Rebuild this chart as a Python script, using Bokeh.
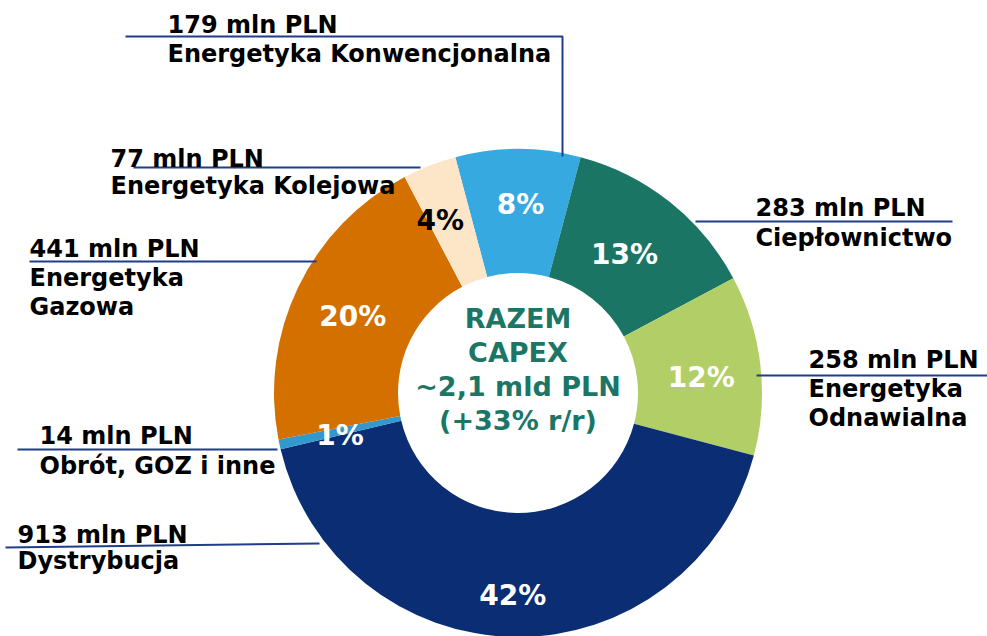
import math
from bokeh.plotting import figure
from bokeh.models import Range1d, ColumnDataSource
from bokeh.core.properties import value
from bokeh.embed import file_html
from bokeh.resources import INLINE

# ---------------- data ----------------
categories = ["Energetyka Konwencjonalna", "Ciepłownictwo", "Energetyka Odnawialna",
              "Dystrybucja", "Obrót, GOZ i inne", "Energetyka Gazowa", "Energetyka Kolejowa"]
values = [179, 283, 258, 913, 14, 441, 77]
label_lines = ["Energetyka Konwencjonalna", "Ciepłownictwo", "Energetyka\nOdnawialna",
               "Dystrybucja", "Obrót, GOZ i inne", "Energetyka\nGazowa", "Energetyka Kolejowa"]
colors = ["#36a9e1", "#1b7565", "#b2cf67", "#0a2d74", "#3399cc", "#d47000", "#fde5c8"]
pct_colors = ["white", "white", "white", "white", "white", "white", "black"]
center_lines = ["RAZEM", "CAPEX", "~2,1 mld PLN", "(+33% r/r)"]

# ---------------- layout (reference pixel coordinates) ----------------
W, H = 987, 636
CX, CY = 517.5, 392.5
R_OUT, R_IN = 244, 120
pct_radius = [189, 175, 184, 203, 183, 182, 189]
pct_angle_nudge = [0.8, -0.9, 1.8, 0.7, -1.3, -0.9, -3.0]
label_pos = [(167, 32), (755, 215), (808, 367), (17, 542), (39, 443), (29, 256), (110, 166)]
line_gap = [29, 30, 29, 26, 30, 29, 27]
leader_xs = [[125, 562, 562], [695, 952], [756, 987], [5, 319], [17, 277], [29, 316], [133, 420]]
leader_ys = [[36, 36, 156], [221, 221], [375, 375], [547, 543], [449, 449], [261, 261], [167, 167]]

FONT = value("DejaVu Sans")
LABEL_SIZE = 24

p = figure(width=W, height=H, output_backend="svg", toolbar_location=None,
           x_range=Range1d(0, W), y_range=Range1d(-H, 0),
           x_axis_type=None, y_axis_type=None, min_border=0)
p.outline_line_color = None
p.grid.visible = False
p.background_fill_color = "white"

total = sum(values)
start_cw = -values[0] / total * 180.0  # first slice centered at the top
starts, ends, mids = [], [], []
acc = start_cw
for v in values:
    a0 = acc
    a1 = acc + v / total * 360.0
    starts.append(math.radians(90 - a0))
    ends.append(math.radians(90 - a1))
    mids.append((a0 + a1) / 2)
    acc = a1

src = ColumnDataSource(dict(start=starts, end=ends, color=colors))
p.annular_wedge(x=CX, y=-CY, inner_radius=R_IN, outer_radius=R_OUT,
                start_angle="start", end_angle="end", direction="clock",
                fill_color="color", line_color=None, source=src)

# percent labels
px, py, ptxt = [], [], []
for v, m, r, dn in zip(values, mids, pct_radius, pct_angle_nudge):
    th = math.radians(m + dn)
    px.append(CX + r * math.sin(th))
    py.append(-(CY - r * math.cos(th)))
    ptxt.append(f"{round(v / total * 100)}%")
p.text(x=px, y=py, text=ptxt, text_color=pct_colors, text_font=FONT,
       text_font_style="bold", text_font_size="28px", text_align="center",
       text_baseline="middle")

# leader lines
p.multi_line(xs=leader_xs, ys=[[-y for y in ys] for ys in leader_ys],
             line_color="#1f3d8a", line_width=2)

# outside labels (positions given as baselines; drawn with middle alignment)
tx, ty, tt = [], [], []
for v, lines, (lx, ly), g in zip(values, label_lines, label_pos, line_gap):
    rows = [f"{v} mln PLN"] + lines.split("\n")
    for i, row in enumerate(rows):
        tx.append(lx)
        ty.append(-(ly + i * g - 0.36 * LABEL_SIZE + 1))
        tt.append(row)
p.text(x=tx, y=ty, text=tt, text_color="black", text_font=FONT,
       text_font_style="bold", text_font_size=f"{LABEL_SIZE}px", text_align="left",
       text_baseline="middle")

# center text
p.text(x=[CX] * len(center_lines), y=[-(318 + i * 34) for i in range(len(center_lines))],
       text=center_lines, text_color="#1b7665", text_font=FONT, text_font_style="bold",
       text_font_size="27px", text_align="center", text_baseline="middle")

open("out.html", "w").write(file_html(p, INLINE))
